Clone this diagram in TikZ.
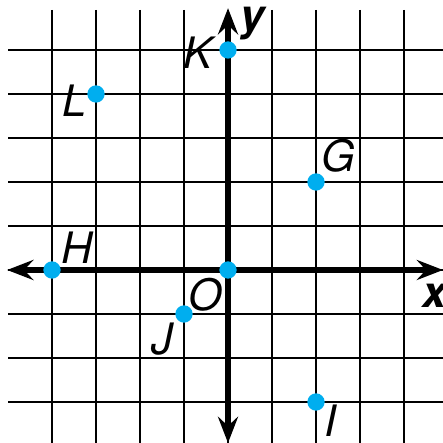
\documentclass[tikz,border=0pt]{standalone}
\usepackage{fontspec}
\setmainfont{TeX Gyre Heros}
\usetikzlibrary{arrows.meta,calc}
\definecolor{dotblue}{HTML}{00AEEF}
\begin{document}
\begin{tikzpicture}[x=1cm,y=1cm,
  gridline/.style={line width=0.9pt,black},
  axis/.style={line width=3.4pt,black,{Stealth[length=17pt,width=13pt,inset=6pt]}-{Stealth[length=17pt,width=13pt,inset=6pt]}},
  pt/.style={circle,fill=dotblue,inner sep=0pt,minimum size=0.394cm},
  lbl/.style={font=\fontsize{28}{32}\selectfont\itshape,inner sep=0pt},
  axlbl/.style={font=\fontsize{28}{32}\selectfont\bfseries\itshape,inner sep=0pt}]
\useasboundingbox (-5.182,-3.932) rectangle (4.886,6.136);
% grid
\foreach \y in {-3,...,5} \draw[gridline] (-5,\y) -- (4.9,\y);
\foreach \x in {-4,...,4} \draw[gridline] (\x,5.91) -- (\x,-3.95);
% axes
\coordinate (xl) at (-5.02,0);
\coordinate (xr) at (4.886,0);
\coordinate (yt) at (0,5.95);
\coordinate (yb) at (0,-3.932);
\draw[axis] (xl) -- (xr);
\draw[axis] (yb) -- (yt);
% points
\node[pt] (K) at (0,5) {};
\node[pt] (L) at (-3,4) {};
\node[pt] (G) at (2,2) {};
\node[pt] (H) at (-4,0) {};
\node[pt] (O) at (0,0) {};
\node[pt] (J) at (-1,-1) {};
\node[pt] (I) at (2,-3) {};
% labels
\node[lbl] (Kl) at (-0.68,4.93) {K};
\node[lbl] (Ll) at (-3.48,3.84) {L};
\node[lbl] (Gl) at (2.5,2.59) {G};
\node[lbl] (Hl) at (-3.43,0.5) {H};
\node[lbl] (Ol) at (-0.52,-0.57) {O};
\node[lbl] (Jl) at (-1.5,-1.57) {J};
\node[lbl] (Il) at (2.34,-3.43) {I};
\node[axlbl] (xlab) at (4.7,-0.59) {x};
\node[axlbl] (ylab) at (0.55,5.59) {y};
\end{tikzpicture}
\end{document}
